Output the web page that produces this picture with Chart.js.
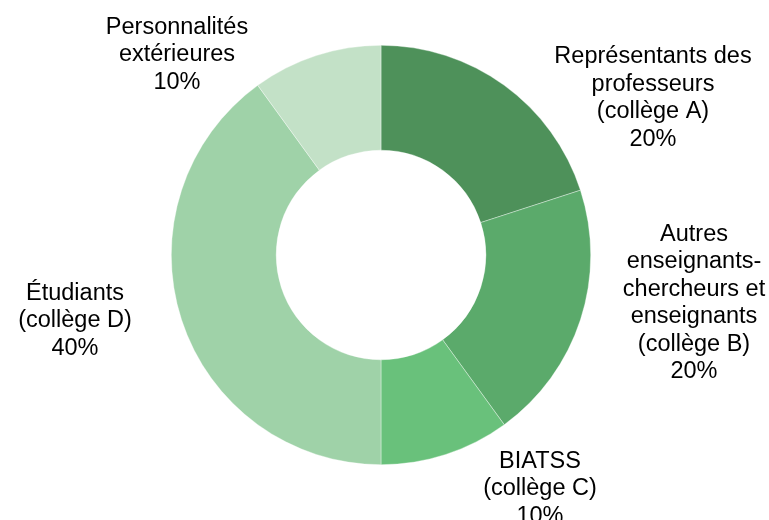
<!DOCTYPE html>
<html>
<head>
<meta charset="utf-8">
<script src="https://cdn.jsdelivr.net/npm/chart.js@4/dist/chart.umd.min.js"></script>
<style>
html,body{margin:0;padding:0;background:#fff;}
#wrap{width:769px;height:520px;position:relative;}
</style>
</head>
<body>
<div id="wrap"><canvas id="c" width="769" height="520"></canvas></div>
<script>
const categories = [
  ["Représentants des", "professeurs", "(collège A)"],
  ["Autres", "enseignants-", "chercheurs et", "enseignants", "(collège B)"],
  ["BIATSS", "(collège C)"],
  ["Étudiants", "(collège D)"],
  ["Personnalités", "extérieures"]
];
const values = [20, 20, 10, 40, 10];
const percentLabels = ["20%", "20%", "10%", "40%", "10%"];
const colors = ["#4e915a", "#5baa6b", "#69c17b", "#9fd2a8", "#c3e1c7"];

// label block offsets from the doughnut centre (px)
const labelOffsets = [[272, -157], [313, 48], [159, 234], [-306, 66], [-204, -200]];

const labelPlugin = {
  id: 'outLabels',
  afterDatasetsDraw(chart) {
    const ctx = chart.ctx;
    const meta = chart.getDatasetMeta(0);
    ctx.save();
    ctx.font = '23.5px "Liberation Sans", Arial, sans-serif';
    ctx.fillStyle = '#000';
    ctx.textAlign = 'center';
    ctx.textBaseline = 'middle';
    const lh = 27.5;
    meta.data.forEach((arc, i) => {
      const lines = categories[i].concat([percentLabels[i]]);
      const cx = arc.x + labelOffsets[i][0];
      const cy = arc.y + labelOffsets[i][1];
      const top = cy - (lines.length - 1) * lh / 2;
      lines.forEach((t, j) => ctx.fillText(t, cx, top + j * lh));
    });
    ctx.restore();
  }
};

new Chart(document.getElementById('c'), {
  type: 'doughnut',
  data: {
    labels: categories.map(c => c.join(' ')),
    datasets: [{
      data: values,
      backgroundColor: colors,
      borderWidth: 0.6,
      borderColor: 'rgba(255,255,255,0.6)'
    }]
  },
  options: {
    responsive: false,
    animation: false,
    cutout: '50%',
    layout: { padding: { left: 171, right: 178, top: 45, bottom: 55 } },
    plugins: { legend: { display: false }, tooltip: { enabled: false } }
  },
  plugins: [labelPlugin]
});
</script>
</body>
</html>
